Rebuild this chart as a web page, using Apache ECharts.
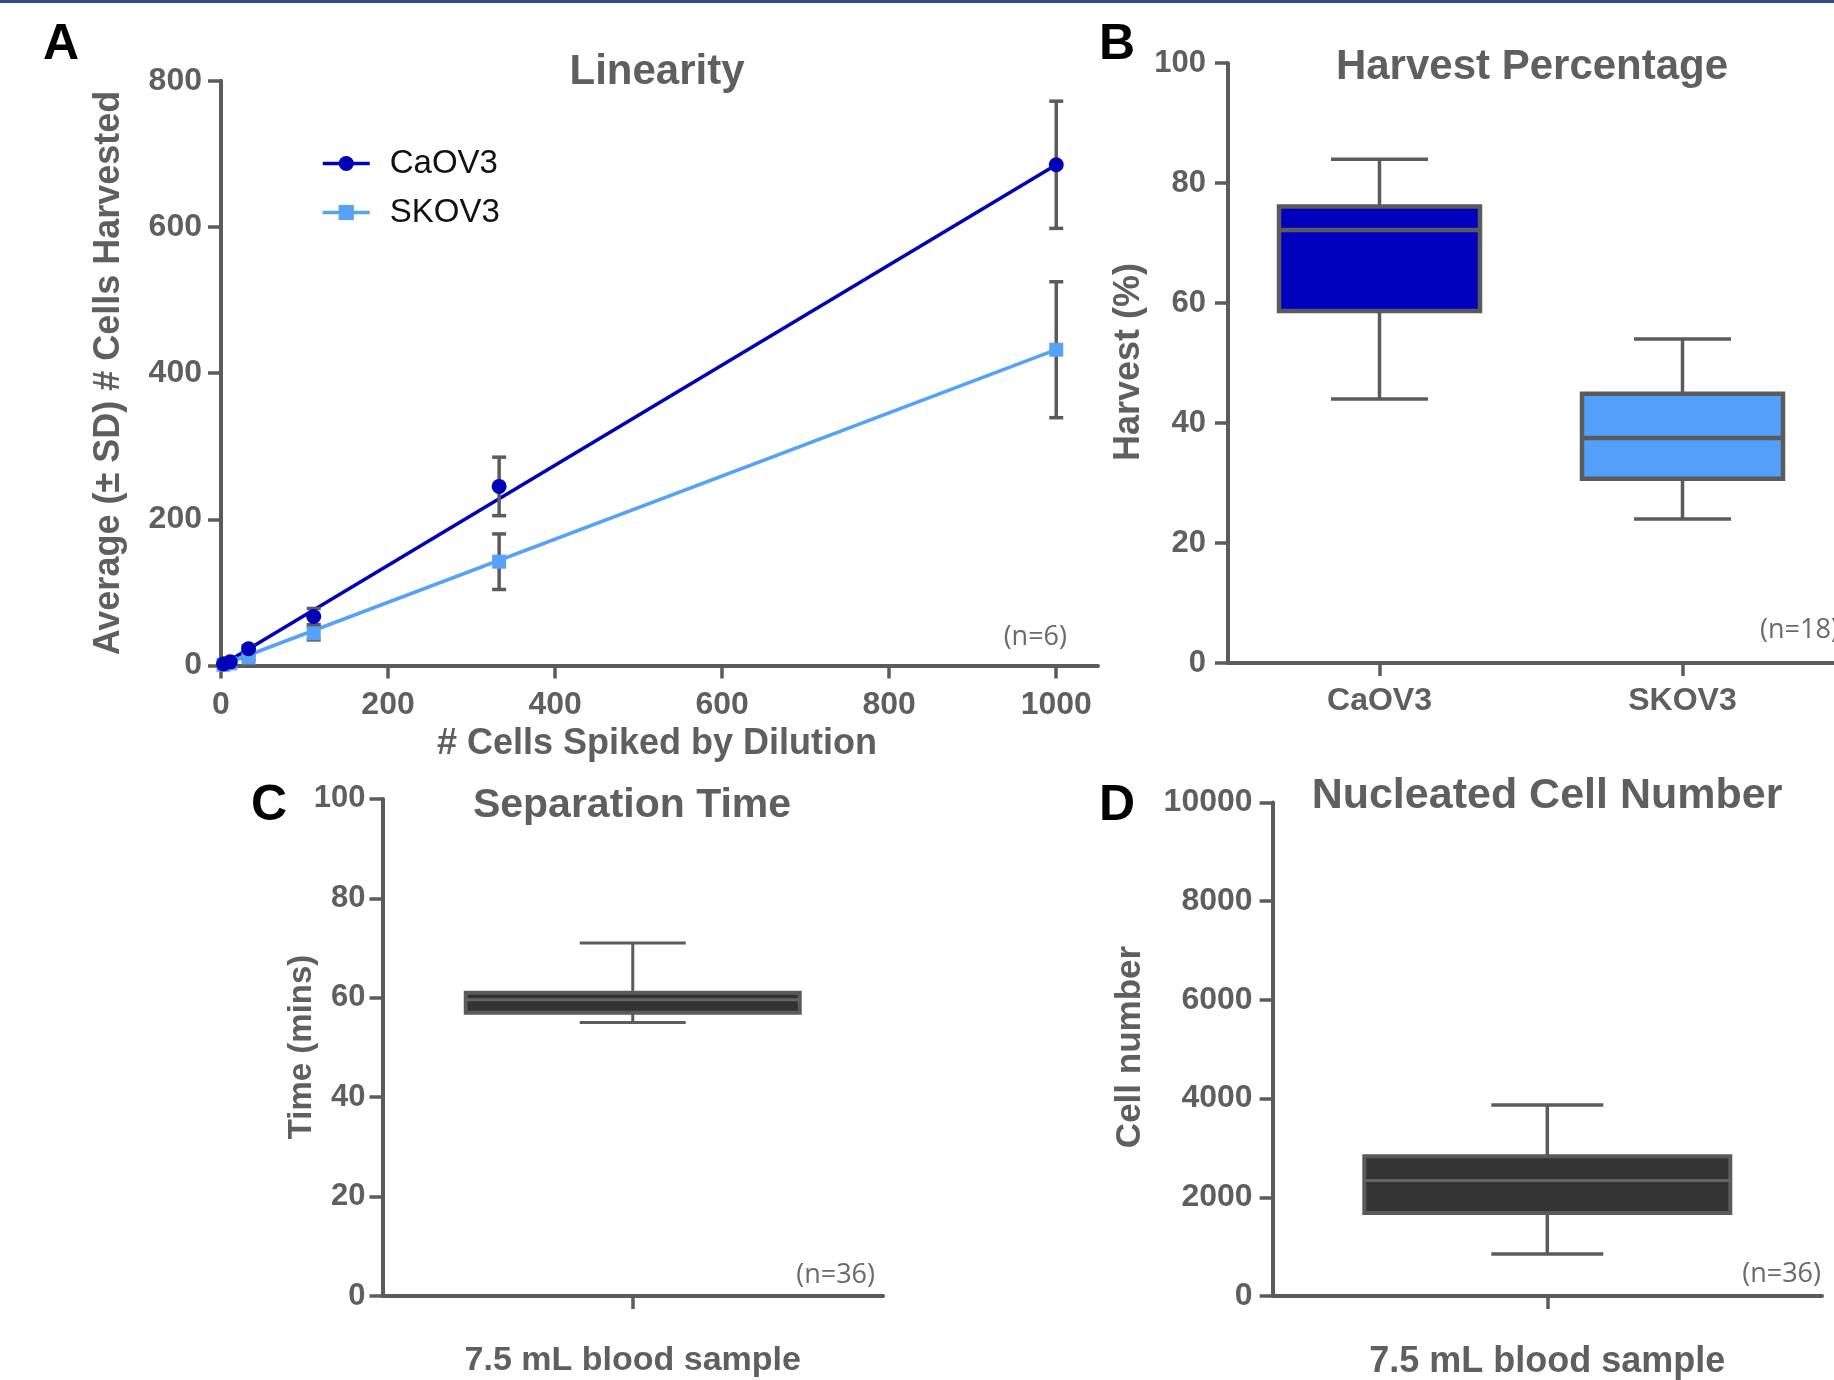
<!DOCTYPE html>
<html>
<head>
<meta charset="utf-8">
<style>
  html, body { margin: 0; padding: 0; background: #ffffff; }
  #chart { width: 1834px; height: 1380px; }
</style>
<script src="https://cdn.jsdelivr.net/npm/echarts@6/dist/echarts.min.js"></script>
</head>
<body>
<div id="chart"></div>
<script>
// ---------------- data ----------------
// Panel A: linearity
const spikedCells = [3, 11, 33, 111, 333, 1000];
const caov3Mean   = [2, 5, 23, 67, 245, 685];
const caov3SD     = [1, 2, 4, 11, 40, 87];
const skov3Mean   = [1, 3, 11, 44, 142, 432];
const skov3SD     = [1, 1, 3, 9, 38, 93];
const fitX        = [0, 1000];
const caov3FitY   = [0, 685];
const skov3FitY   = [0, 432];
const linXTicks   = [0, 200, 400, 600, 800, 1000];

// Panel B: harvest percentage  [min, Q1, median, Q3, max]
const harvestCategories = ['CaOV3', 'SKOV3'];
const harvestCaOV3 = [44, 58.7, 72.2, 76.1, 84];
const harvestSKOV3 = [24, 30.7, 37.5, 44.9, 54];

// Panel C: separation time  [min, Q1, median, Q3, max]
const sepCategories = ['7.5 mL blood sample'];
const sepTime = [55, 57, 59.6, 61, 71];

// Panel D: nucleated cell number  [min, Q1, median, Q3, max]
const nucCategories = ['7.5 mL blood sample'];
const nucCells = [850, 1680, 2340, 2830, 3870];

// ---------------- styling helpers ----------------
const FONT = "'Liberation Sans', Arial, Helvetica, sans-serif";
const AXIS = '#5b5b5b';
const TXT = '#5f5f5f';
const DARK_BLUE = '#0000b8';
const LIGHT_BLUE = '#55a2f6';
const plain = v => String(v);

function valueAxis(gridIndex, min, max, interval, fontSize, margin, extra) {
  return Object.assign({
    type: 'value', gridIndex, min, max, interval,
    axisLine: { show: true, lineStyle: { color: AXIS, width: 4 } },
    axisTick: { show: true, length: 13, lineStyle: { color: AXIS, width: 3.5 } },
    axisLabel: { color: TXT, fontFamily: FONT, fontWeight: 'bold', fontSize, margin, formatter: plain },
    splitLine: { show: false }
  }, extra || {});
}
function catAxis(gridIndex, data, fontSize, margin) {
  return {
    type: 'category', gridIndex, data, boundaryGap: true,
    axisLine: { show: true, lineStyle: { color: AXIS, width: 4 } },
    axisTick: { show: true, alignWithLabel: true, length: 13, lineStyle: { color: AXIS, width: 3.5 } },
    axisLabel: { color: TXT, fontFamily: FONT, fontWeight: 'bold', fontSize, margin, interval: 0 },
    splitLine: { show: false }
  };
}

function errorBarRender(capHalf) {
  return function (params, api) {
    const x = api.value(0), m = api.value(1), sd = api.value(2);
    const top = api.coord([x, m + sd]);
    const bot = api.coord([x, m - sd]);
    const st = { stroke: AXIS, lineWidth: 3.5 };
    return {
      type: 'group',
      children: [
        { type: 'line', shape: { x1: top[0], y1: top[1], x2: bot[0], y2: bot[1] }, style: st },
        { type: 'line', shape: { x1: top[0] - capHalf, y1: top[1], x2: top[0] + capHalf, y2: top[1] }, style: st },
        { type: 'line', shape: { x1: bot[0] - capHalf, y1: bot[1], x2: bot[0] + capHalf, y2: bot[1] }, style: st }
      ]
    };
  };
}

function boxRender(boxW, capW, fills, borderW, whiskerW, medianColor, medianW) {
  return function (params, api) {
    const c = api.value(0);
    const lo = api.coord([c, api.value(1)]);
    const q1 = api.coord([c, api.value(2)]);
    const md = api.coord([c, api.value(3)]);
    const q3 = api.coord([c, api.value(4)]);
    const hi = api.coord([c, api.value(5)]);
    const x = lo[0];
    const wst = { stroke: AXIS, lineWidth: whiskerW };
    return {
      type: 'group',
      children: [
        { type: 'line', shape: { x1: x, y1: hi[1], x2: x, y2: q3[1] }, style: wst },
        { type: 'line', shape: { x1: x, y1: q1[1], x2: x, y2: lo[1] }, style: wst },
        { type: 'line', shape: { x1: x - capW / 2, y1: hi[1], x2: x + capW / 2, y2: hi[1] }, style: wst },
        { type: 'line', shape: { x1: x - capW / 2, y1: lo[1], x2: x + capW / 2, y2: lo[1] }, style: wst },
        { type: 'rect', shape: { x: x - boxW / 2, y: q3[1], width: boxW, height: q1[1] - q3[1] },
          style: { fill: fills[params.dataIndex], stroke: AXIS, lineWidth: borderW } },
        { type: 'line', shape: { x1: x - boxW / 2, y1: md[1], x2: x + boxW / 2, y2: md[1] },
          style: { stroke: medianColor, lineWidth: medianW } }
      ]
    };
  };
}

function gtext(text, x, y, font, fill, align, rotation) {
  return {
    type: 'text', x, y, rotation: rotation || 0, silent: true,
    style: { text, font, fill, align: align || 'center', verticalAlign: 'middle',
             textAlign: align || 'center', textVerticalAlign: 'middle' }
  };
}

// ---------------- chart ----------------
const chart = echarts.init(document.getElementById('chart'), null, { renderer: 'canvas' });

const option = {
  backgroundColor: '#ffffff',
  animation: false,
  grid: [
    { left: 221, top: 80.7, width: 877, height: 584.8, outerBoundsMode: 'none' },
    { left: 1228, top: 63.2, width: 606, height: 599.8, outerBoundsMode: 'none' },
    { left: 382.5, top: 798.9, width: 500.5, height: 497.1, outerBoundsMode: 'none' },
    { left: 1272.6, top: 802.4, width: 549.4, height: 493.6, outerBoundsMode: 'none' }
  ],
  xAxis: [
    valueAxis(0, 0, 1050, 200, 32, 24, {
      axisTick: { show: true, length: 13, customValues: linXTicks, lineStyle: { color: AXIS, width: 3.5 } },
      axisLabel: { color: TXT, fontFamily: FONT, fontWeight: 'bold', fontSize: 32, margin: 24,
                   customValues: linXTicks, formatter: plain }
    }),
    catAxis(1, harvestCategories, 32, 22),
    catAxis(2, sepCategories, 34, 48),
    catAxis(3, nucCategories, 36, 48)
  ],
  yAxis: [
    valueAxis(0, 0, 800, 200, 32, 19),
    valueAxis(1, 0, 100, 20, 31, 22),
    valueAxis(2, 0, 100, 20, 31, 17),
    valueAxis(3, 0, 10000, 2000, 32, 20)
  ],
  legend: {
    data: ['CaOV3', 'SKOV3'],
    orient: 'vertical',
    left: 316, top: 142,
    itemWidth: 47, itemHeight: 19, itemGap: 16,
    lineStyle: { width: 3.5 },
    textStyle: { fontFamily: FONT, fontSize: 33, color: '#111111', padding: [0, 0, 0, 15] },
    selectedMode: false
  },
  series: [
    { name: 'CaOV3', type: 'line', xAxisIndex: 0, yAxisIndex: 0,
      data: fitX.map((x, i) => [x, caov3FitY[i]]),
      symbol: 'circle', showSymbol: false, z: 2, silent: true,
      lineStyle: { color: DARK_BLUE, width: 3.5 }, itemStyle: { color: DARK_BLUE } },
    { name: 'SKOV3', type: 'line', xAxisIndex: 0, yAxisIndex: 0,
      data: fitX.map((x, i) => [x, skov3FitY[i]]),
      symbol: 'rect', showSymbol: false, z: 2, silent: true,
      lineStyle: { color: LIGHT_BLUE, width: 3.5 }, itemStyle: { color: LIGHT_BLUE } },
    { name: 'CaOV3 SD', type: 'custom', xAxisIndex: 0, yAxisIndex: 0, z: 3,
      renderItem: errorBarRender(7), encode: { x: 0, y: 1 },
      data: spikedCells.map((x, i) => [x, caov3Mean[i], caov3SD[i]]) },
    { name: 'SKOV3 SD', type: 'custom', xAxisIndex: 0, yAxisIndex: 0, z: 3,
      renderItem: errorBarRender(7), encode: { x: 0, y: 1 },
      data: spikedCells.map((x, i) => [x, skov3Mean[i], skov3SD[i]]) },
    { name: 'SKOV3', type: 'scatter', xAxisIndex: 0, yAxisIndex: 0, z: 4,
      symbol: 'rect', symbolSize: 14, itemStyle: { color: LIGHT_BLUE, opacity: 1 },
      data: spikedCells.map((x, i) => [x, skov3Mean[i]]) },
    { name: 'CaOV3', type: 'scatter', xAxisIndex: 0, yAxisIndex: 0, z: 5,
      symbol: 'circle', symbolSize: 15, itemStyle: { color: DARK_BLUE, opacity: 1 },
      data: spikedCells.map((x, i) => [x, caov3Mean[i]]) },

    { name: 'Harvest', type: 'custom', xAxisIndex: 1, yAxisIndex: 1,
      renderItem: boxRender(201, 97, ['#0000be', '#52a0fa'], 4.5, 3.5, AXIS, 4.5),
      encode: { x: 0, y: [1, 2, 3, 4, 5] },
      data: [[0].concat(harvestCaOV3), [1].concat(harvestSKOV3)] },
    { name: 'Separation', type: 'custom', xAxisIndex: 2, yAxisIndex: 2,
      renderItem: boxRender(334, 106, ['#333333'], 4, 3, '#646464', 3),
      encode: { x: 0, y: [1, 2, 3, 4, 5] },
      data: [[0].concat(sepTime)] },
    { name: 'Nucleated', type: 'custom', xAxisIndex: 3, yAxisIndex: 3,
      renderItem: boxRender(366, 112, ['#333333'], 4, 3.5, '#646464', 3),
      encode: { x: 0, y: [1, 2, 3, 4, 5] },
      data: [[0].concat(nucCells)] }
  ],
  graphic: [
    { type: 'rect', shape: { x: 0, y: 0, width: 1834, height: 3 }, style: { fill: '#2d4f8c' }, silent: true },
    // panel letters
    gtext('A', 43, 45, "bold 50px " + FONT, '#000000', 'left'),
    gtext('B', 1099, 45, "bold 50px " + FONT, '#000000', 'left'),
    gtext('C', 251, 806, "bold 50px " + FONT, '#000000', 'left'),
    gtext('D', 1099, 806, "bold 50px " + FONT, '#000000', 'left'),
    // titles
    gtext('Linearity', 657, 72, "bold 42px " + FONT, TXT),
    gtext('Harvest Percentage', 1532, 67, "bold 42px " + FONT, TXT),
    gtext('Separation Time', 632, 806, "bold 41px " + FONT, TXT),
    gtext('Nucleated Cell Number', 1547, 796, "bold 43px " + FONT, TXT),
    // axis names
    gtext('Average (\u00b1 SD) # Cells Harvested', 109, 373, "bold 36px " + FONT, TXT, 'center', Math.PI / 2),
    gtext('# Cells Spiked by Dilution', 657, 744, "bold 36px " + FONT, TXT),
    gtext('Harvest (%)', 1129, 362, "bold 36px " + FONT, TXT, 'center', Math.PI / 2),
    gtext('Time (mins)', 302, 1047, "bold 33px " + FONT, TXT, 'center', Math.PI / 2),
    gtext('Cell number', 1130, 1047, "bold 35px " + FONT, TXT, 'center', Math.PI / 2),
    // sample sizes
    gtext('(n=6)', 1067, 637, "27px 'Open Sans', " + FONT, '#6a6a6a', 'right'),
    gtext('(n=18)', 1760, 630, "27px 'Open Sans', " + FONT, '#6a6a6a', 'left'),
    gtext('(n=36)', 875, 1275, "27px 'Open Sans', " + FONT, '#6a6a6a', 'right'),
    gtext('(n=36)', 1821, 1274, "27px 'Open Sans', " + FONT, '#6a6a6a', 'right')
  ]
};
chart.setOption(option);
</script>
</body>
</html>
